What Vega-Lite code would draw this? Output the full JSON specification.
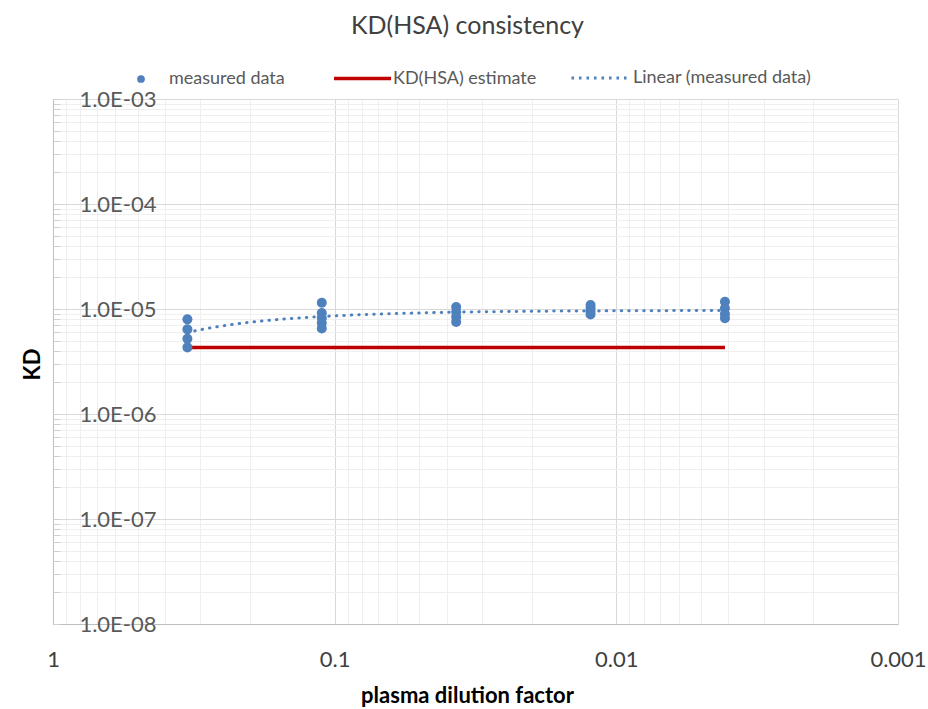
{
  "$schema": "https://vega.github.io/schema/vega-lite/v6.json",
  "width": 845,
  "height": 525,
  "autosize": {"type": "none"},
  "padding": {"left": 53, "top": 99, "right": 30, "bottom": 85},
  "background": "white",
  "config": {"view": {"stroke": null}, "font": "Lato", "legend": {"padding": 0, "titlePadding": 0}},
  "title": {
    "text": "KD(HSA) consistency",
    "font": "Lato",
    "fontSize": 25,
    "fontWeight": "normal",
    "color": "#404040",
    "anchor": "middle",
    "frame": "group",
    "dx": -8,
    "baseline": "alphabetic",
    "offset": -11
  },
  "datasets": {
    "measured": [
      {"dilution": 0.3333, "kd": 7.97e-6},
      {"dilution": 0.3333, "kd": 6.40e-6},
      {"dilution": 0.3333, "kd": 5.21e-6},
      {"dilution": 0.3333, "kd": 4.31e-6},
      {"dilution": 0.1111, "kd": 1.148e-5},
      {"dilution": 0.1111, "kd": 9.16e-6},
      {"dilution": 0.1111, "kd": 8.21e-6},
      {"dilution": 0.1111, "kd": 7.35e-6},
      {"dilution": 0.1111, "kd": 6.52e-6},
      {"dilution": 0.037037, "kd": 1.045e-5},
      {"dilution": 0.037037, "kd": 9.36e-6},
      {"dilution": 0.037037, "kd": 8.39e-6},
      {"dilution": 0.037037, "kd": 7.52e-6},
      {"dilution": 0.012346, "kd": 1.092e-5},
      {"dilution": 0.012346, "kd": 1.022e-5},
      {"dilution": 0.012346, "kd": 9.47e-6},
      {"dilution": 0.012346, "kd": 8.86e-6},
      {"dilution": 0.004115, "kd": 1.174e-5},
      {"dilution": 0.004115, "kd": 1.015e-5},
      {"dilution": 0.004115, "kd": 8.96e-6},
      {"dilution": 0.004115, "kd": 8.15e-6}
    ],
    "estimate": [
      {"dilution": 0.3333, "kd": 4.31e-6},
      {"dilution": 0.004115, "kd": 4.31e-6}
    ]
  },
  "encoding": {
    "x": {
      "field": "dilution",
      "type": "quantitative",
      "scale": {"type": "log", "domain": [0.001, 1], "reverse": true, "nice": false},
      "axis": {
        "values": [0.001, 0.002, 0.003, 0.004, 0.005, 0.006, 0.007, 0.008, 0.009, 0.01, 0.02, 0.03, 0.04, 0.05, 0.06, 0.07, 0.08, 0.09, 0.1, 0.2, 0.3, 0.4, 0.5, 0.6, 0.7, 0.8, 0.9, 1],
        "labelExpr": "abs(log(datum.value)/LN10 - round(log(datum.value)/LN10)) < 0.001 ? format(datum.value, '~g') : ''",
        "grid": true,
        "gridColor": {"condition": {"test": "abs(log(datum.value)/LN10 - round(log(datum.value)/LN10)) < 0.001", "value": "#d9d9d9"}, "value": "#efefef"},
        "gridWidth": 1,
        "domain": true,
        "domainColor": "#bfbfbf",
        "domainWidth": 1,
        "ticks": false,
        "tickSize": 0,
        "labelFlush": false,
        "labelOverlap": false,
        "labelBaseline": "alphabetic",
        "labelPadding": 42,
        "labelFont": "Lato",
        "labelFontSize": 22,
        "labelColor": "#404040",
        "title": "plasma dilution factor",
        "titleFont": "Lato",
        "titleFontSize": 22,
        "titleFontWeight": "bold",
        "titleColor": "#000000",
        "titleBaseline": "alphabetic",
        "titleAnchor": "middle",
        "titleX": 414,
        "titleY": 78
      }
    },
    "y": {
      "field": "kd",
      "type": "quantitative",
      "scale": {"type": "log", "domain": [1e-8, 1e-3], "nice": false},
      "axis": {
        "values": [1e-8, 2e-8, 3e-8, 4e-8, 5e-8, 6e-8, 7e-8, 8e-8, 9e-8, 1e-7, 2e-7, 3e-7, 4e-7, 5e-7, 6e-7, 7e-7, 8e-7, 9e-7, 1e-6, 2e-6, 3e-6, 4e-6, 5e-6, 6e-6, 7e-6, 8e-6, 9e-6, 1e-5, 2e-5, 3e-5, 4e-5, 5e-5, 6e-5, 7e-5, 8e-5, 9e-5, 1e-4, 2e-4, 3e-4, 4e-4, 5e-4, 6e-4, 7e-4, 8e-4, 9e-4, 1e-3],
        "labelExpr": "abs(log(datum.value)/LN10 - round(log(datum.value)/LN10)) < 0.001 ? '1.0E-0' + (-round(log(datum.value)/LN10)) : ''",
        "grid": true,
        "gridColor": {"condition": {"test": "abs(log(datum.value)/LN10 - round(log(datum.value)/LN10)) < 0.001", "value": "#d9d9d9"}, "value": "#efefef"},
        "gridWidth": 1,
        "domain": true,
        "domainColor": "#bfbfbf",
        "domainWidth": 1,
        "ticks": true,
        "tickSize": -7,
        "tickColor": "#d0d0d0",
        "labelOverlap": false,
        "labelFlush": false,
        "labelAlign": "right",
        "labelBaseline": "middle",
        "labelPadding": -96,
        "labelFont": "Lato",
        "labelFontSize": 22,
        "labelColor": "#595959",
        "title": "KD",
        "titleFont": "Lato",
        "titleFontSize": 22,
        "titleFontWeight": "bold",
        "titleColor": "#000000",
        "titleAngle": -90,
        "titleBaseline": "middle",
        "titleAnchor": "middle",
        "titleX": -21,
        "titleY": 265
      }
    }
  },
  "layer": [
    {
      "data": {"name": "estimate"},
      "mark": {"type": "line", "strokeWidth": 3.5},
      "encoding": {
        "color": {
          "datum": "KD(HSA) estimate",
          "type": "nominal",
          "scale": {"domain": ["KD(HSA) estimate"], "range": ["#c00000"]},
          "legend": {
            "title": null,
            "orient": "none",
            "legendX": 279,
            "legendY": -51,
            "symbolType": "stroke",
            "symbolSize": 3249,
            "symbolStrokeWidth": 3.5,
            "labelFont": "Lato",
            "labelFontSize": 18,
            "labelColor": "#595959",
            "labelLimit": 400,
            "labelOffset": 0
          }
        }
      }
    },
    {
      "data": {"name": "measured"},
      "transform": [{"regression": "kd", "on": "dilution", "method": "poly", "order": 1}],
      "mark": {"type": "line", "strokeWidth": 3, "strokeDash": [0.5, 7], "strokeCap": "round"},
      "encoding": {
        "color": {
          "datum": "Linear (measured data)",
          "type": "nominal",
          "scale": {"domain": ["Linear (measured data)"], "range": ["#4f81bd"]},
          "legend": {
            "title": null,
            "orient": "none",
            "legendX": 517,
            "legendY": -51,
            "symbolType": "stroke",
            "symbolSize": 3249,
            "symbolStrokeWidth": 3,
            "symbolDash": [2.5, 5],
            "labelFont": "Lato",
            "labelFontSize": 18,
            "labelColor": "#595959",
            "labelLimit": 400,
            "labelOffset": 3
          }
        }
      }
    },
    {
      "data": {"name": "measured"},
      "mark": {"type": "point", "filled": true, "shape": "circle", "size": 100, "opacity": 1},
      "encoding": {
        "color": {
          "datum": "measured data",
          "type": "nominal",
          "scale": {"domain": ["measured data"], "range": ["#4f81bd"]},
          "legend": {
            "title": null,
            "orient": "none",
            "legendX": 79,
            "legendY": -29,
            "symbolType": "circle",
            "symbolSize": 60,
            "labelFont": "Lato",
            "labelFontSize": 18,
            "labelColor": "#595959",
            "labelLimit": 400,
            "labelOffset": 19
          }
        }
      }
    }
  ],
  "resolve": {"scale": {"color": "independent"}, "legend": {"color": "independent"}}
}
